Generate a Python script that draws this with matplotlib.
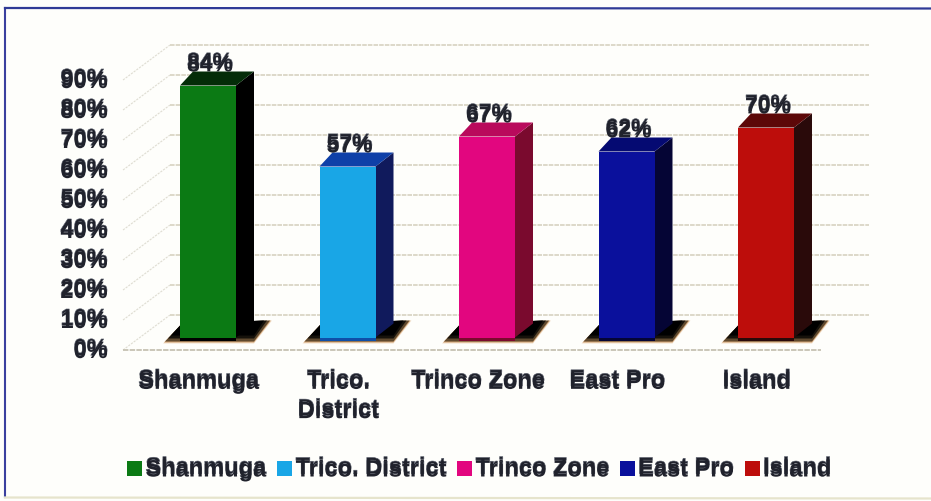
import matplotlib
matplotlib.use("Agg")
import matplotlib.pyplot as plt
import matplotlib.patheffects as pe
from matplotlib.patches import Patch, Polygon, Rectangle
from matplotlib.transforms import ScaledTranslation

categories = ["Shanmuga", "Trico. District", "Trinco Zone", "East Pro", "Island"]
tick_labels = ["Shanmuga", "Trico.\nDistrict", "Trinco Zone", "East Pro", "Island"]
values = [84, 57, 67, 62, 70]
y_ticks = [0, 10, 20, 30, 40, 50, 60, 70, 80, 90]

front_colors = ["#0b7a14", "#19a6e6", "#e2067f", "#0a109c", "#bd0d0b"]
top_colors = ["#042c08", "#0f40a8", "#b90a5c", "#050a72", "#5c0808"]
side_colors = ["#000000", "#101a5c", "#7a0a2e", "#050535", "#2a0a0a"]

W, H, DPI = 931, 502, 100
plt.rcParams["font.family"] = ["Liberation Sans", "DejaVu Sans"]
fig = plt.figure(figsize=(W / DPI, H / DPI), dpi=DPI, facecolor="#fefefb")

# axes box in pixels
L, R, T, B = 123, 880, 30, 351
ax = fig.add_axes([L / W, 1 - B / H, (R - L) / W, (B - T) / H])
ax.patch.set_alpha(0)
PX_Y = 1 / 3.0          # percent per pixel
PX_X = 1 / 139.5        # category per pixel
ax.set_ylim(0, (B - T) * PX_Y)
ax.set_xlim(-(208 - L) * PX_X, (R - 208) * PX_X)
for s in ax.spines.values():
    s.set_visible(False)

# depth offsets
wall_dx, wall_dy = 47 * PX_X, 35 * PX_Y
bar_dx, bar_dy = 18 * PX_X, 14 * PX_Y
base_dy = 12.5 * PX_Y
half_w = 28 * PX_X

ghost = [pe.Stroke(linewidth=0.4, foreground="#5a5f6c", offset=(0, 2.0)), pe.Normal()]
ink = "#20222c"

# walls
grid_c = "#d4cfbc"
x_front = L * PX_X - 208 * PX_X
x_right = (869 - 208) * PX_X
for v in y_ticks:
    ax.plot([x_front, x_front + wall_dx], [v, v + wall_dy], color="#dfddd2", lw=0.8,
            ls=(0, (2, 1)), zorder=1, clip_on=False)
    ax.plot([x_front + wall_dx, x_right], [v + wall_dy, v + wall_dy], color=grid_c, lw=1.1,
            ls=(0, (3, 0.7)), zorder=1, clip_on=False)
ax.plot([x_front, (821 - 208) * PX_X], [0, 0], color="#c6c2b2", lw=1.3,
        ls=(0, (3, 0.7)), zorder=1, clip_on=False)

# bars
shadow_layers = [(2, "#e0b080", 0.4), (1, "#b5722c", 0.55), (0, "#3a2c18", 0.75),
                 (-3, "#0e0c08", 0.9), (-6, "#000000", 1.0)]
for i, v in enumerate(values):
    x0, x1 = i - half_w, i + half_w
    y0, y1 = base_dy, v + base_dy
    # floor shadow, soft edged
    for grow, col, a in shadow_layers:
        gx, gy = grow * PX_X, grow * PX_Y
        ax.add_patch(Polygon([(x0 - 15 * PX_X - gx, y0 - 4 * PX_Y - gy),
                              (x0 + 2 * PX_X, y0 + 14 * PX_Y),
                              (x1 + 34 * PX_X + gx, y0 + 17 * PX_Y),
                              (x1 + 18 * PX_X, y0 - 4 * PX_Y - gy)],
                             closed=True, fc=col, ec="none", alpha=a, zorder=2))
    ax.add_patch(Polygon([(x1, y0), (x1 + bar_dx, y0 + bar_dy), (x1 + bar_dx, y1 + bar_dy), (x1, y1)],
                         closed=True, fc=side_colors[i], ec="none", zorder=3))
    ax.add_patch(Polygon([(x0, y1), (x1, y1), (x1 + bar_dx, y1 + bar_dy), (x0 + 13 * PX_X, y1 + bar_dy)],
                         closed=True, fc=top_colors[i], ec="none", zorder=3))
    ax.add_patch(Rectangle((x0, y0), x1 - x0, y1 - y0, fc=front_colors[i], ec="none", zorder=4))
    ax.add_patch(Rectangle((x0, y0 - 1.3), x1 - x0, 1.3, fc=side_colors[i] if i != 1 else "#0f4fa8",
                           ec="none", zorder=4))
    ax.text(i + 2 * PX_X, y1 + bar_dy + 2.2, f"{v}%", ha="center", va="center", fontsize=16.5,
            fontweight="bold", color=ink, path_effects=ghost, zorder=6, clip_on=False)

# y ticks
ax.set_yticks(y_ticks)
ax.set_yticklabels([f"{v}%" for v in y_ticks], fontsize=17, fontweight="bold", color=ink)
ax.tick_params(axis="y", length=0, pad=11)
for lab in ax.get_yticklabels():
    lab.set_transform(lab.get_transform() + ScaledTranslation(0, 1 / DPI, fig.dpi_scale_trans))
    lab.set_path_effects(ghost)

# x ticks
ax.set_xticks(range(len(categories)))
ax.set_xticklabels(tick_labels, fontsize=17, fontweight="bold", color=ink, linespacing=1.35)
ax.tick_params(axis="x", length=0, pad=15)
for lab in ax.get_xticklabels():
    lab.set_transform(lab.get_transform() + ScaledTranslation(-9 / DPI, 0, fig.dpi_scale_trans))
    lab.set_path_effects(ghost)

# legend
handles = [Patch(fc=c, ec="none", label=n) for c, n in zip(front_colors, categories)]
leg = fig.legend(handles=handles, ncol=5, loc="center", bbox_to_anchor=(479.5 / W, 1 - 471 / H),
                 frameon=False, prop={"size": 17, "weight": "bold"}, labelcolor=ink,
                 handlelength=0.62, handleheight=0.62, handletextpad=0.15, columnspacing=0.45,
                 borderpad=0, borderaxespad=0)
for t in leg.get_texts():
    t.set_path_effects(ghost)

# frame, open on the right edge of the scan
fig.add_artist(plt.Line2D([5 / W, 5 / W], [1 - 9 / H, 1 - 498 / H], color="#3a3f9e", lw=1.5))
fig.add_artist(plt.Line2D([5 / W, 1], [1 - 9 / H, 1 - 9.5 / H], color="#2f3a96", lw=1.6))
fig.add_artist(plt.Line2D([5 / W, 1], [1 - 498.5 / H, 1 - 499.5 / H], color="#e6e4cc", lw=1.6))

fig.savefig("out.png", dpi=DPI, facecolor=fig.get_facecolor())
